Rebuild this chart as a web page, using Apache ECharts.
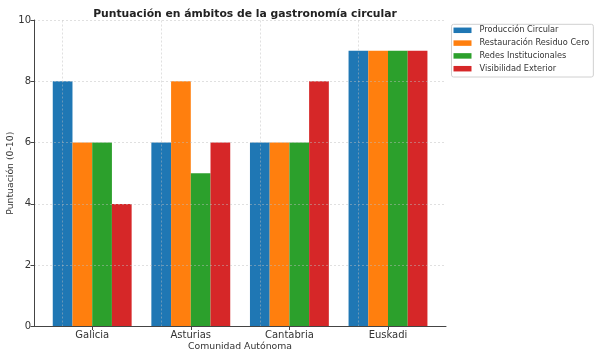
<!DOCTYPE html>
<html>
<head>
<meta charset="utf-8">
<script src="https://cdn.jsdelivr.net/npm/echarts@6/dist/echarts.min.js"></script>
<style>html,body{margin:0;padding:0;background:#fff}#c{width:600px;height:358px}</style>
</head>
<body>
<div id="c"></div>
<script>
const categories = ['Galicia', 'Asturias', 'Cantabria', 'Euskadi'];
const seriesNames = ['Producción Circular', 'Restauración Residuo Cero', 'Redes Institucionales', 'Visibilidad Exterior'];
const produccion = [8, 6, 6, 9];
const restauracion = [6, 8, 6, 9];
const redes = [6, 5, 6, 9];
const visibilidad = [4, 6, 8, 9];
const colors = ['#1f77b4', '#ff7f0e', '#2ca02c', '#d62728'];

const allValues = [produccion, restauracion, redes, visibilidad];
const font = 'DejaVu Sans';
const gridColor = 'rgba(190,190,190,0.6)';

const chart = echarts.init(document.getElementById('c'), null, {renderer: 'canvas'});
const series = allValues.map((vals, s) => ({
  name: seriesNames[s],
  type: 'bar',
  xAxisIndex: 0, yAxisIndex: 0,
  data: vals,
  barCategoryGap: '20%',
  barGap: '0%',
  itemStyle: {color: colors[s]},
  z: 2,
  markLine: s === 0 ? {
    silent: true,
    symbol: ['none', 'none'],
    label: {show: false},
    lineStyle: {color: gridColor, type: [2, 2], width: 0.8},
    data: categories.map(c => ({xAxis: c})),
    animation: false
  } : undefined
}));

chart.setOption({
  animation: false,
  title: {
    text: 'Puntuación en ámbitos de la gastronomía circular',
    left: 240, top: 4, textAlign: 'center',
    textStyle: {fontFamily: font, fontSize: 10.8, fontWeight: 'bold', color: '#222'}
  },
  legend: {
    orient: 'vertical', left: 451.5, top: 24.3,
    itemWidth: 18, itemHeight: 5.5, itemGap: 2.8,
    icon: 'rect',
    padding: [1, 4, 3.3, 2],
    borderColor: '#d0d0d0', borderWidth: 1, borderRadius: 2,
    backgroundColor: '#fff',
    textStyle: {fontFamily: font, fontSize: 8.2, lineHeight: 10, color: '#333', padding: [0, 0, 0, 3]},
    data: seriesNames
  },
  grid: [
    {left: 42.9, width: 394.4, top: 20, bottom: 31.5, containLabel: false, outerBoundsMode: 'none'},
    {left: 34, width: 412, top: 20, bottom: 31.5, containLabel: false, outerBoundsMode: 'none'}
  ],
  xAxis: [
    {
      type: 'category', gridIndex: 0, data: categories,
      axisLine: {show: false},
      axisTick: {show: true, alignWithLabel: true, length: 3.5, lineStyle: {color: '#444'}},
      axisLabel: {margin: 4, fontFamily: font, fontSize: 10, color: '#333'},
      splitLine: {show: false}
    },
    {
      type: 'value', gridIndex: 1, min: 0, max: 1, z: 6,
      name: 'Comunidad Autónoma', nameLocation: 'middle', nameGap: 16, nameMoveOverlap: false,
      nameTextStyle: {fontFamily: font, fontSize: 9.3, color: '#333'},
      axisLine: {show: true, onZero: false, lineStyle: {color: '#444', width: 1}},
      axisTick: {show: false},
      axisLabel: {show: false},
      splitLine: {show: false}
    }
  ],
  yAxis: [
    {
      type: 'value', gridIndex: 0, min: 0, max: 10, interval: 2, show: false
    },
    {
      type: 'value', gridIndex: 1, min: 0, max: 10, interval: 2, z: 5,
      name: 'Puntuación (0-10)', nameLocation: 'middle', nameGap: 19, nameRotate: 90, nameMoveOverlap: false,
      nameTextStyle: {fontFamily: font, fontSize: 9.3, color: '#333'},
      axisLine: {show: true, onZero: false, lineStyle: {color: '#444', width: 1}},
      axisTick: {show: true, length: 3.5, lineStyle: {color: '#444'}},
      axisLabel: {margin: 3, fontFamily: font, fontSize: 10, color: '#333'},
      splitLine: {show: true, lineStyle: {color: gridColor, type: [2, 2], width: 0.8}}
    }
  ],
  series: series
});
</script>
</body>
</html>
